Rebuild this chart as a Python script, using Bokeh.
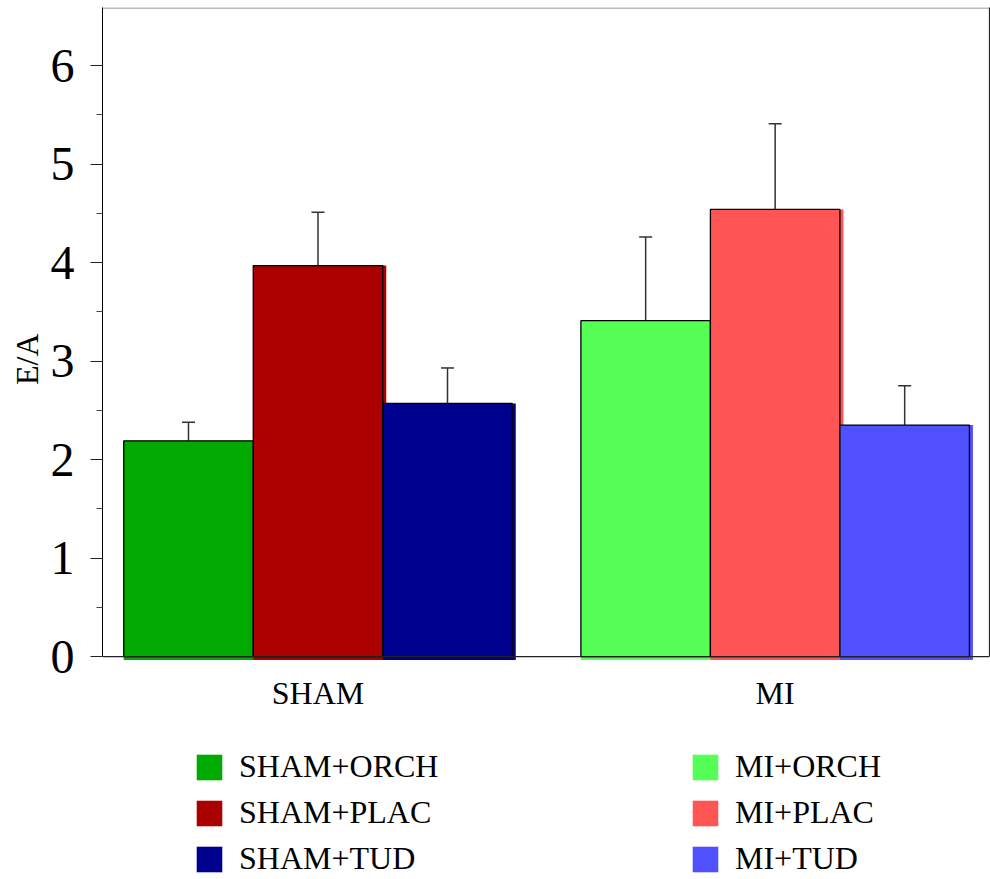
from bokeh.plotting import figure
from bokeh.models import (Range1d, FixedTicker, Whisker, ColumnDataSource,
                          Legend, LegendItem, TeeHead, LabelSet, Span, LinearAxis, Title)
from bokeh.embed import file_html
from bokeh.resources import INLINE

# ---- data ----
groups = ["SHAM", "MI"]
treatments = ["ORCH", "PLAC", "TUD"]
series_labels = ["SHAM+ORCH", "SHAM+PLAC", "SHAM+TUD", "MI+ORCH", "MI+PLAC", "MI+TUD"]
means = [2.19, 3.97, 2.57, 3.41, 4.54, 2.35]
sems = [0.19, 0.54, 0.36, 0.85, 0.87, 0.40]
colors = ["#00AA00", "#AA0000", "#00008F", "#55FF55", "#FF5555", "#5050FF"]
y_ticks = [0, 1, 2, 3, 4, 5, 6]
y_label = "E/A"

# ---- layout constants ----
GROUP_STEP = 3.53
BAR_W = 1.0
DX = 0.027   # shadow offset (x units)
DY = 0.035   # shadow offset below baseline
Y_TOP = 6.59
Y_BOTTOM = -2.264   # room below the axis for the category labels and legend
FONT = "Liberation Serif"

centers = []
for gi in range(len(groups)):
    for ti in range(len(treatments)):
        centers.append(gi * GROUP_STEP + (ti - 1) * BAR_W)
group_centers = [gi * GROUP_STEP for gi in range(len(groups))]

left = [c - BAR_W / 2 for c in centers]
right = [c + BAR_W / 2 for c in centers]
upper = [m + s for m, s in zip(means, sems)]

p = figure(width=990, height=879, output_backend="svg", toolbar_location=None,
           x_range=Range1d(-1.664, 5.185), y_range=Range1d(Y_BOTTOM, Y_TOP),
           min_border_left=102, min_border_right=1, min_border_top=7,
           min_border_bottom=0, x_axis_location=None)
p.xgrid.visible = False
p.ygrid.visible = False
p.outline_line_color = None
p.background_fill_color = "white"
p.border_fill_color = "white"

fill_renderers = []
for i in range(len(means)):
    src = ColumnDataSource(dict(l=[left[i]], r=[right[i] + DX], t=[means[i]], b=[-DY]))
    fr = p.quad(left="l", right="r", top="t", bottom="b", source=src,
                fill_color=colors[i], line_color=None)
    fill_renderers.append(fr)
    src2 = ColumnDataSource(dict(l=[left[i]], r=[right[i]], t=[means[i]], b=[0]))
    p.quad(left="l", right="r", top="t", bottom="b", source=src2,
           fill_color=None, line_color="black", line_width=1.3)

err_src = ColumnDataSource(dict(x=centers, lo=means, hi=upper))
w = Whisker(base="x", lower="lo", upper="hi", source=err_src, dimension="height",
            line_color="#333333", line_width=1.5,
            upper_head=TeeHead(size=13, line_color="#333333", line_width=1.5),
            lower_head=None)
p.add_layout(w)

# baseline (x axis line) and top border
p.add_layout(Span(location=0, dimension="width", line_color="#222222", line_width=1.2))
p.add_layout(Span(location=Y_TOP - 0.005, dimension="width", line_color="#777777", line_width=1.2))

# y axis
yax = p.yaxis[0]
yax.bounds = (0, Y_TOP)
yax.ticker = FixedTicker(ticks=y_ticks, minor_ticks=[t + 0.5 for t in y_ticks[:-1]])
yax.major_tick_out = 12
yax.major_tick_in = 0
yax.minor_tick_out = 6
yax.minor_tick_in = 0
yax.major_tick_line_color = "#222222"
yax.minor_tick_line_color = "#444444"
yax.axis_line_color = "black"
yax.major_label_text_font = FONT
yax.major_label_text_font_size = "48px"
yax.major_label_text_color = "black"
yax.major_label_standoff = 16

# y axis title, placed in the left panel beside the tick labels
ytitle = Title(text=y_label, align="right", offset=326, standoff=6,
               text_font=FONT, text_font_size="32px", text_font_style="normal",
               text_color="black")
p.add_layout(ytitle, "left")

# right border as an unlabeled axis
rax = LinearAxis(bounds=(0, Y_TOP), ticker=FixedTicker(ticks=[]),
                 axis_line_color="#222222", axis_line_width=1.2,
                 major_tick_line_color=None, minor_tick_line_color=None,
                 major_tick_out=0, minor_tick_out=0, major_label_standoff=0)
p.add_layout(rax, "right")

# category labels under the bars
lab_src = ColumnDataSource(dict(x=group_centers, y=[0] * len(groups), text=groups))
p.add_layout(LabelSet(x="x", y="y", text="text", source=lab_src, y_offset=-18,
                      text_align="center", text_baseline="top",
                      text_font=FONT, text_font_size="32px", text_color="black"))

# legends (two columns)
def make_legend(idx, x0):
    items = [LegendItem(label=series_labels[i], renderers=[fill_renderers[i]]) for i in idx]
    return Legend(items=items, location=(x0, 2), orientation="vertical",
                  glyph_width=32, glyph_height=32, label_standoff=14,
                  label_text_font=FONT, label_text_font_size="32px",
                  label_text_color="black", spacing=9, padding=0, margin=0,
                  border_line_color=None, background_fill_alpha=0)

p.add_layout(make_legend([0, 1, 2], 91))
p.add_layout(make_legend([3, 4, 5], 587))

open("out.html", "w").write(file_html(p, INLINE))
